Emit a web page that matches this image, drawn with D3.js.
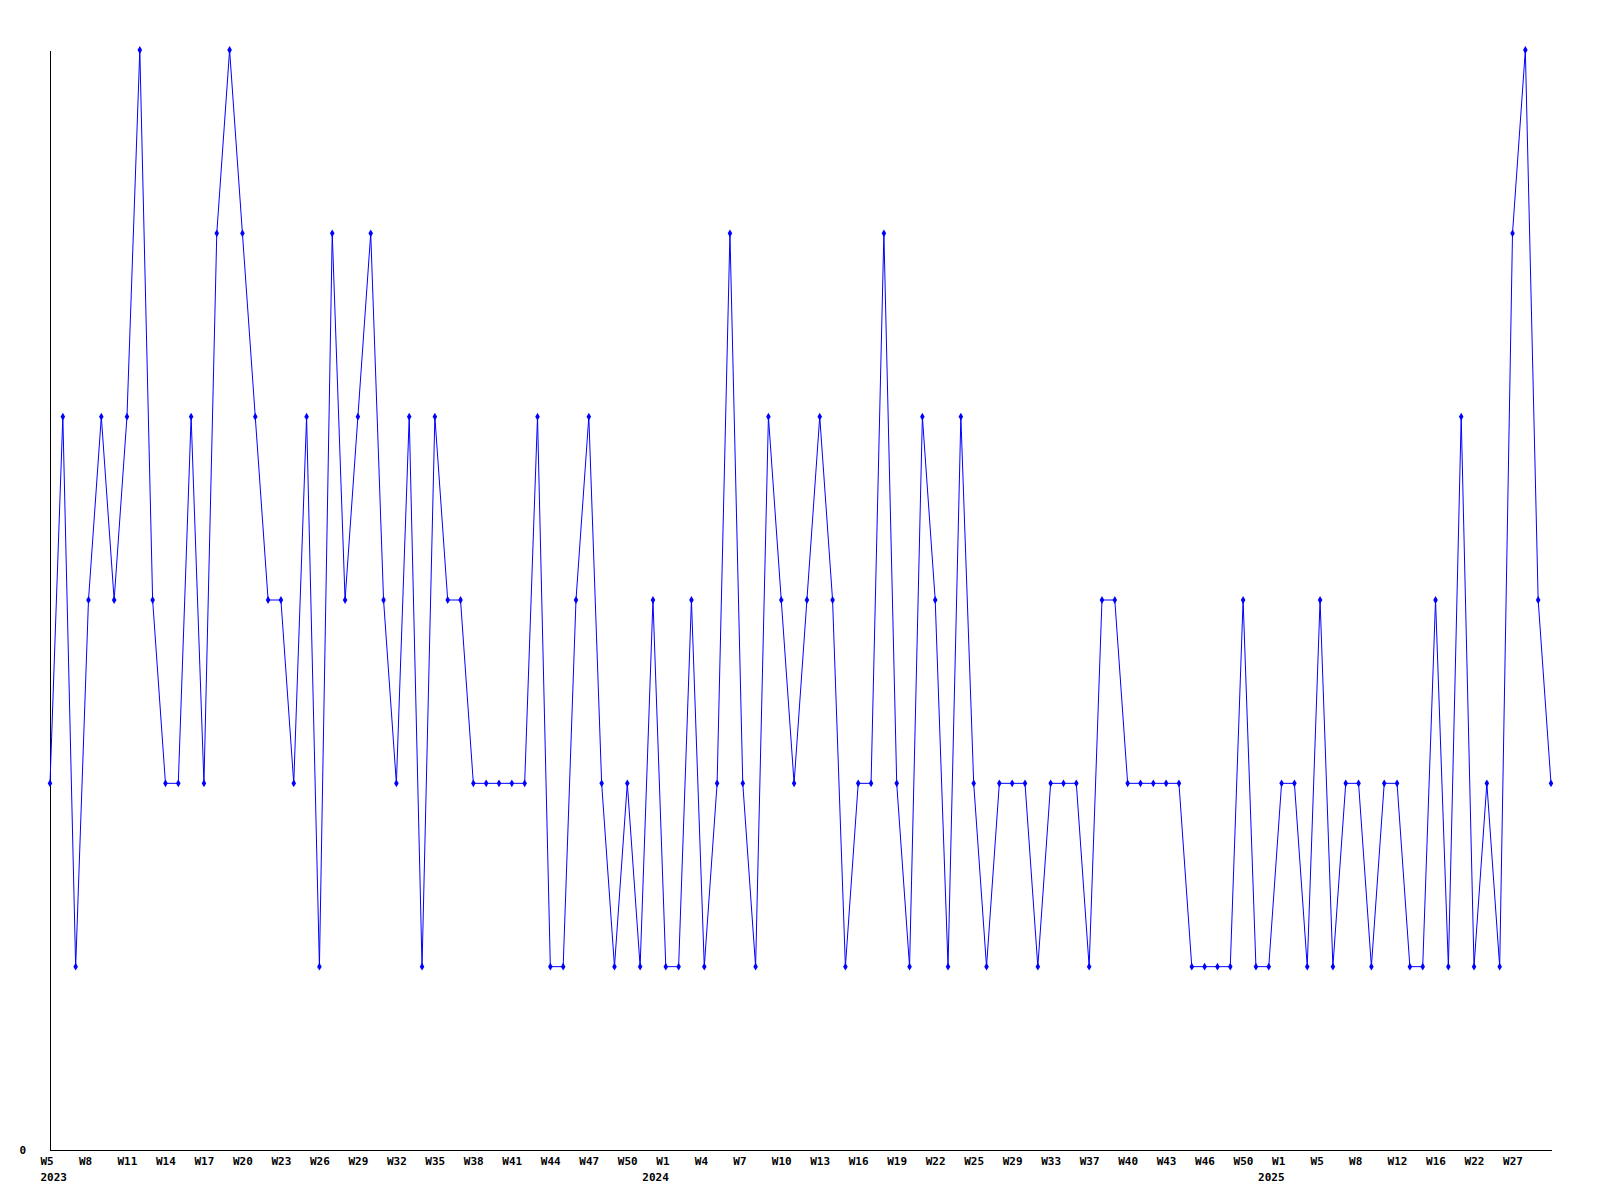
<!DOCTYPE html>
<html>
<head>
<meta charset="utf-8">
<script src="https://cdn.jsdelivr.net/npm/d3@7"></script>
<style>
  html, body { margin: 0; padding: 0; background: #ffffff; }
  svg { display: block; }
  text { font-family: "DejaVu Sans Mono", "Liberation Mono", monospace; font-weight: bold; font-size: 11px; fill: #000; }
</style>
</head>
<body>
<svg id="chart" width="1600" height="1200"></svg>
<script>
// ---- data ----
const weeks2023 = [5,6,7,8,9,10,11,12,13,14,15,16,17,18,19,20,21,22,23,24,25,26,27,28,29,30,31,32,33,34,35,36,37,38,39,40,41,42,43,44,45,46,47,48,49,50,51,52];
const weeks2024 = [1,2,3,4,5,6,7,8,9,10,11,12,13,14,15,16,17,18,19,20,21,22,23,24,25,26,27,29,31,32,33,35,36,37,38,39,40,41,42,43,44,45,46,48,49,50,51,52];
const weeks2025 = [1,3,4,5,6,7,8,9,10,12,13,14,16,18,20,22,24,25,27,28,29,30];
const years = [2023, 2024, 2025];

const values = [
  2,4,1,3,4,3,4,6,3,2,
  2,4,2,5,6,5,4,3,3,2,
  4,1,5,3,4,5,3,2,4,1,
  4,3,3,2,2,2,2,2,4,1,
  1,3,4,2,1,2,1,3,1,1,
  3,1,2,5,2,1,4,3,2,3,
  4,3,1,2,2,5,2,1,4,3,
  1,4,2,1,2,2,2,1,2,2,
  2,1,3,3,2,2,2,2,2,1,
  1,1,1,3,1,1,2,2,1,3,
  1,2,2,1,2,2,1,1,3,1,
  4,1,2,1,5,6,3,2
];
const yTicks = [0];

// ---- build categories ----
const categories = [];
[weeks2023, weeks2024, weeks2025].forEach((ws, yi) => {
  ws.forEach((w, wi) => categories.push({ key: years[yi] + "-W" + w, year: years[yi], week: w, firstOfYear: wi === 0 }));
});
const data = categories.map((c, i) => ({ cat: c, value: values[i] }));

// ---- layout ----
const svg = d3.select("#chart");
const plotLeft = 50, plotRight = 1551, plotTop = 50, plotBottom = 1150;

const x = d3.scalePoint().domain(categories.map(c => c.key)).range([plotLeft, plotRight]);
const y = d3.scaleLinear().domain([0, 6]).range([plotBottom, plotTop]);

// x axis: a label every third week, only where the label fits inside the plot
const charW = 6.6;
const catByKey = new Map(categories.map(c => [c.key, c]));
const tickKeys = categories
  .filter((c, i) => i % 3 === 0)
  .filter(c => x(c.key) - 10 + ("W" + c.week).length * charW <= plotRight)
  .map(c => c.key);

const xAxis = svg.append("g")
  .attr("transform", `translate(0,${plotBottom})`)
  .call(d3.axisBottom(x).tickValues(tickKeys).tickSize(0).tickSizeOuter(0)
    .tickFormat(k => "W" + catByKey.get(k).week));
xAxis.select(".domain").attr("stroke", "#000").attr("shape-rendering", "crispEdges");
xAxis.selectAll(".tick text")
  .attr("x", -10).attr("y", 15).attr("dy", 0)
  .attr("text-anchor", "start")
  .style("font-family", "'DejaVu Sans Mono', monospace")
  .style("font-weight", "bold").style("font-size", "11px");
xAxis.selectAll(".tick").each(function(k) {
  const c = catByKey.get(k);
  if (c.firstOfYear) {
    const px = x(k);
    const startX = Math.max(plotLeft - 10, px + 3 - 27) - px;
    d3.select(this).append("text")
      .attr("x", startX).attr("y", 31)
      .attr("text-anchor", "start")
      .attr("fill", "#000")
      .style("font-family", "'DejaVu Sans Mono', monospace")
      .style("font-weight", "bold").style("font-size", "11px")
      .text(c.year);
  }
});

// y axis
const yAxis = svg.append("g")
  .attr("transform", `translate(${plotLeft},0)`)
  .call(d3.axisLeft(y).tickValues(yTicks).tickSize(0).tickSizeOuter(0).tickPadding(24).tickFormat(d3.format("d")));
yAxis.select(".domain").attr("stroke", "#000").attr("shape-rendering", "crispEdges");
yAxis.selectAll(".tick text")
  .attr("dy", "0.32em")
  .style("font-family", "'DejaVu Sans Mono', monospace")
  .style("font-weight", "bold").style("font-size", "11px");

// line
const line = d3.line().x(d => x(d.cat.key)).y(d => y(d.value));
svg.append("path")
  .datum(data)
  .attr("fill", "none")
  .attr("stroke", "#0000ff")
  .attr("stroke-width", 1)
  .attr("d", line);

// markers
svg.append("g").selectAll("path")
  .data(data)
  .join("path")
  .attr("transform", d => `translate(${x(d.cat.key)},${y(d.value)})`)
  .attr("d", d3.symbol(d3.symbolDiamond, 18))
  .attr("fill", "#0000ff");
</script>
</body>
</html>
